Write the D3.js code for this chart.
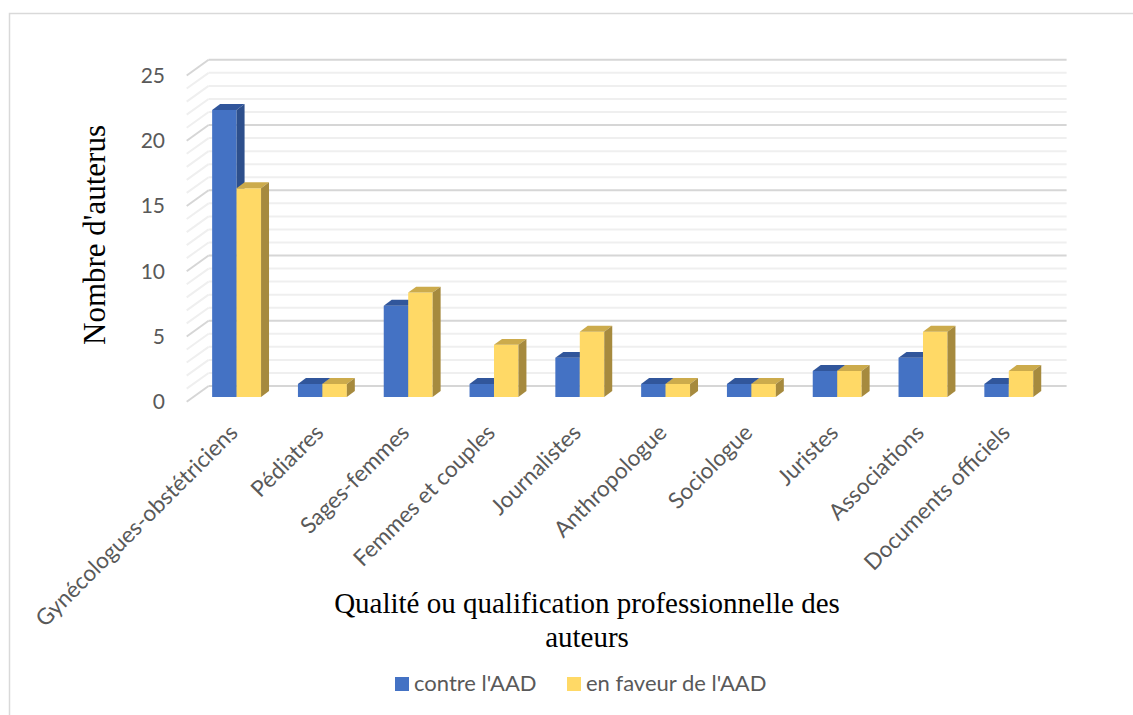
<!DOCTYPE html>
<html>
<head>
<meta charset="utf-8">
<script src="https://cdn.jsdelivr.net/npm/d3@7.9.0/dist/d3.min.js"></script>
<style>
  html, body { margin: 0; padding: 0; background: #fff; }
  svg { display: block; }
</style>
</head>
<body>
<svg id="chart" width="1133" height="715"></svg>
<script>
const categories = ['Gynécologues-obstétriciens', 'Pédiatres', 'Sages-femmes', 'Femmes et couples',
  'Journalistes', 'Anthropologue', 'Sociologue', 'Juristes', 'Associations', 'Documents officiels'];
const contre = [22, 1, 7, 1, 3, 1, 1, 2, 3, 1];
const faveur = [16, 1, 8, 4, 5, 1, 1, 2, 5, 2];
const seriesNames = ["contre l'AAD", "en faveur de l'AAD"];
const yTicks = [0, 5, 10, 15, 20, 25];

const colors = {
  front: ['#4472c4', '#ffd966'],
  top: ['#31569b', '#ccab4c'],
  side: ['#2d4f8c', '#a68a3e']
};

const svg = d3.select('#chart');
const sans = 'Lato, "Open Sans", sans-serif';
const serif = '"Liberation Serif", "Times New Roman", serif';

// chart frame
svg.append('rect')
  .attr('x', 9.5).attr('y', 13.5)
  .attr('width', 1300).attr('height', 900)
  .attr('fill', 'none').attr('stroke', '#d9d9d9').attr('stroke-width', 1.5);

// depth projection (0 = front, 1 = back wall)
const depthX = 21.3, depthY = -15.7;
const y = d3.scaleLinear().domain([0, 25]).range([401.7, 75.5]);
const x0 = d3.scaleBand().domain(categories).range([187.3, 1045.3])
  .paddingInner(0.43).paddingOuter(0.215);
const x1 = d3.scaleBand().domain([0, 1]).range([0, x0.bandwidth()]);

// back wall + left wall gridlines
const grid = svg.append('g');
y.ticks(25).forEach(v => {
  const major = v % 5 === 0;
  const col = major ? '#d6d6d6' : '#efefef';
  grid.append('line')
    .attr('x1', 187.3 + depthX).attr('x2', 1045.3 + depthX)
    .attr('y1', y(v) + depthY).attr('y2', y(v) + depthY)
    .attr('stroke', col).attr('stroke-width', 2);
  grid.append('line')
    .attr('x1', 186.7).attr('x2', 187.3 + depthX)
    .attr('y1', y(v)).attr('y2', y(v) + depthY)
    .attr('stroke', col).attr('stroke-width', 2);
});

// y tick labels
svg.append('g').selectAll('text').data(yTicks).join('text')
  .attr('x', 165).attr('y', d => y(d))
  .attr('dy', '0.35em')
  .attr('text-anchor', 'end')
  .attr('font-family', sans).attr('font-size', 21)
  .attr('fill', '#595959')
  .text(d => d);

// 3D bars
const d0 = 0.3, dd = 0.375;
const bars = svg.append('g');
categories.forEach((c, i) => {
  [contre[i], faveur[i]].forEach((v, s) => {
    const xl = x0(c) + x1(s) + depthX * d0;
    const xr = xl + x1.bandwidth();
    const yb = y(0) + depthY * d0;
    const yt = y(v) + depthY * d0;
    const ox = depthX * dd, oy = depthY * dd;
    bars.append('path')
      .attr('d', `M${xl},${yb}V${yt}H${xr}V${yb}Z`)
      .attr('fill', colors.front[s]);
    bars.append('path')
      .attr('d', `M${xl},${yt}L${xl + ox},${yt + oy}H${xr + ox}L${xr},${yt}Z`)
      .attr('fill', colors.top[s]);
    bars.append('path')
      .attr('d', `M${xr},${yb}V${yt}L${xr + ox},${yt + oy}V${yb + oy}Z`)
      .attr('fill', colors.side[s]);
  });
});

// category labels
svg.append('g').selectAll('text').data(categories).join('text')
  .attr('transform', d => `translate(${x0(d) + x0.bandwidth() / 2 + depthX * d0 + 2.5},434) rotate(-45)`)
  .attr('text-anchor', 'end')
  .attr('font-family', sans).attr('font-size', 22.5)
  .attr('fill', '#595959')
  .text(d => d);

// axis titles
svg.append('text')
  .attr('transform', 'translate(105,235) rotate(-90)')
  .attr('text-anchor', 'middle')
  .attr('font-family', serif).attr('font-size', 31)
  .attr('fill', '#000')
  .text("Nombre d'auterus");

const xt = svg.append('text')
  .attr('text-anchor', 'middle')
  .attr('font-family', serif).attr('font-size', 29)
  .attr('fill', '#000');
xt.append('tspan').attr('x', 587).attr('y', 613).text('Qualité ou qualification professionnelle des');
xt.append('tspan').attr('x', 587).attr('y', 647).text('auteurs');

// legend
const legendX = [395, 567];
const lg = svg.append('g');
seriesNames.forEach((name, s) => {
  lg.append('rect')
    .attr('x', legendX[s]).attr('y', 677)
    .attr('width', 14).attr('height', 14)
    .attr('fill', colors.front[s]);
  lg.append('text')
    .attr('x', legendX[s] + 19).attr('y', 691)
    .attr('font-family', sans).attr('font-size', 22)
    .attr('fill', '#595959')
    .text(name);
});
</script>
</body>
</html>
